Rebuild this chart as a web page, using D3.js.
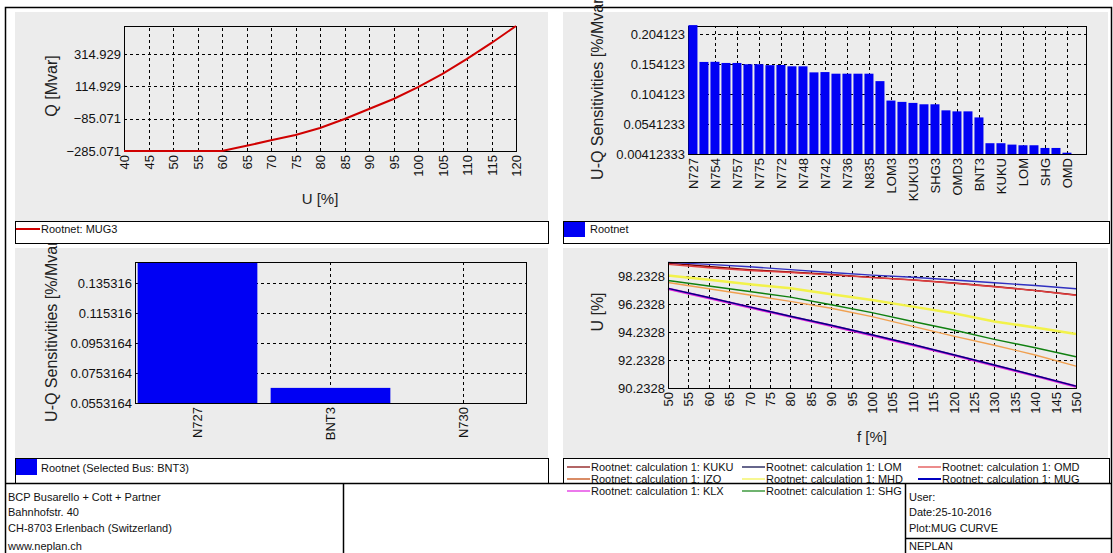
<!DOCTYPE html>
<html>
<head>
    <meta charset="utf-8" />
    <script src="https://cdn.jsdelivr.net/npm/d3@7/dist/d3.min.js"></script>
    <title>MUG curve</title>
    <style>
        body { margin: 0; background: #fff; }
        svg { display: block; font-family: "Liberation Sans", Arial, sans-serif; }
        .grid line { stroke: #000; stroke-dasharray: 3,3; shape-rendering: crispEdges; }
        .grid path, .lbl path { display: none; }
        .lbl text { font-size: 13px; fill: #111; }
        .title { font-size: 15px; fill: #222; }
        .title.vert { font-size: 16px; }
        .small { font-size: 11px; fill: #111; }
    </style>
</head>
<body>
    <script>
        // Q-U curve (top left)
        var uSteps = [40, 45, 50, 55, 60, 65, 70, 75, 80, 85, 90, 95, 100, 105, 110, 115, 120];
        var qValues = [-285.071, -285.071, -285.071, -285.071, -285.071, -253, -219, -186, -143, -87, -25, 37, 111, 192, 285, 384, 489];
        var qTicks = [-285.071, -85.071, 114.929, 314.929];

        // U-Q sensitivities, all buses (top right), only every second bus is labelled
        var sensLabels = ["N727", "N754", "N757", "N775", "N772", "N748", "N742", "N736", "N835",
            "LOM3", "KUKU3", "SHG3", "OMD3", "BNT3", "KUKU", "LOM", "SHG", "OMD"];
        var sensValues = [0.219, 0.1576, 0.1578, 0.1559, 0.1559, 0.1537, 0.1537, 0.1522, 0.1525, 0.1503,
            0.1503, 0.1402, 0.1407, 0.1380, 0.1380, 0.1380, 0.1380, 0.1256, 0.0932, 0.0910,
            0.0893, 0.0870, 0.0870, 0.0769, 0.0752, 0.0752, 0.0651, 0.0221, 0.0221, 0.0198,
            0.0187, 0.0187, 0.0142, 0.0142, 0.0063];
        var sensTicks = [0.00412333, 0.0541233, 0.104123, 0.154123, 0.204123];

        // selected bus BNT3 (bottom left)
        var busNames = ["N727", "BNT3", "N730"];
        var busValues = [0.1494, 0.0654, 0.0553164];
        var busTicks = [0.0553164, 0.0753164, 0.0953164, 0.115316, 0.135316];

        // U-f curves (bottom right)
        var fSteps = [50, 60, 70, 80, 90, 100, 110, 120, 130, 140, 150];
        var fTicks = [50, 55, 60, 65, 70, 75, 80, 85, 90, 95, 100, 105, 110, 115, 120, 125, 130, 135, 140, 145, 150];
        var uTicks = [90.2328, 92.2328, 94.2328, 96.2328, 98.2328];
        var uKUKU = [99.20, 98.95, 98.72, 98.55, 98.37, 98.17, 97.99, 97.76, 97.51, 97.23, 96.90];
        var uLOM = [97.38, 96.72, 96.05, 95.38, 94.73, 94.05, 93.35, 92.62, 91.88, 91.13, 90.37];
        var uOMD = [99.10, 98.86, 98.66, 98.52, 98.35, 98.15, 97.98, 97.75, 97.50, 97.22, 96.89];
        var uIZO = [97.80, 97.35, 96.90, 96.45, 95.95, 95.35, 94.65, 93.95, 93.30, 92.60, 91.80];
        var uMHD = [98.30, 98.00, 97.68, 97.38, 96.95, 96.55, 96.07, 95.59, 95.00, 94.58, 94.10];
        var uMUG = [99.24, 99.10, 98.93, 98.72, 98.52, 98.33, 98.18, 97.98, 97.78, 97.58, 97.35];
        var uKLX = [97.35, 96.69, 96.02, 95.35, 94.70, 94.02, 93.32, 92.59, 91.85, 91.10, 90.34];
        var uSHG = [97.94, 97.55, 97.15, 96.75, 96.20, 95.64, 95.00, 94.39, 93.72, 93.12, 92.47];

        var fSeries = [
            { name: "KUKU", values: uKUKU },
            { name: "LOM", values: uLOM },
            { name: "OMD", values: uOMD },
            { name: "IZO", values: uIZO },
            { name: "MHD", values: uMHD },
            { name: "MUG", values: uMUG },
            { name: "KLX", values: uKLX },
            { name: "SHG", values: uSHG }
        ];
        var lineColor = { KUKU: "#800000", LOM: "#000080", OMD: "#e04040", IZO: "#f0a050", MHD: "#f2f24a", MUG: "#3030c0", KLX: "#e020e0", SHG: "#108010" };
        var legendColor = { KUKU: "#800000", LOM: "#000040", OMD: "#e04040", IZO: "#c04000", MHD: "#f2f24a", MUG: "#0000c0", KLX: "#e020e0", SHG: "#108010" };

        var width = 1113, height = 553;

        var svg = d3.select("body").append("svg")
            .attr("width", width)
            .attr("height", height);

        // page frame
        svg.append("rect")
            .attr("x", 5.5).attr("y", 7.5)
            .attr("width", 1106).attr("height", 560)
            .attr("fill", "#fff").attr("stroke", "#000").attr("stroke-width", 1.5);

        function panel(x0, y0, x1, y1) {
            svg.append("rect")
                .attr("x", x0).attr("y", y0)
                .attr("width", x1 - x0).attr("height", y1 - y0)
                .attr("fill", "#ececec");
        }
        panel(15, 12, 548, 221);
        panel(563, 12, 1108, 221);
        panel(15, 248, 548, 458);
        panel(563, 248, 1108, 458);

        // grid, tick labels and titles of one plot
        function axes(box, x, y, xTicks, yTicks, xFmt, yFmt) {
            var g = svg.append("g");
            g.append("g").attr("class", "grid")
                .attr("transform", "translate(0," + box.b + ")")
                .call(d3.axisBottom(x).tickValues(xTicks).tickSize(-(box.b - box.t)).tickFormat(""));
            g.append("g").attr("class", "grid")
                .attr("transform", "translate(" + box.l + ",0)")
                .call(d3.axisLeft(y).tickValues(yTicks).tickSize(-(box.r - box.l)).tickFormat(""));

            g.append("g").attr("class", "lbl")
                .attr("transform", "translate(0," + box.b + ")")
                .call(d3.axisBottom(x).tickValues(xTicks).tickSize(0).tickFormat(xFmt))
                .selectAll("text")
                .attr("transform", "rotate(-90)")
                .attr("x", -4).attr("y", 0).attr("dy", "0.35em")
                .style("text-anchor", "end");
            g.append("g").attr("class", "lbl")
                .attr("transform", "translate(" + box.l + ",0)")
                .call(d3.axisLeft(y).tickValues(yTicks).tickSize(0).tickPadding(3).tickFormat(yFmt));
            return g;
        }

        function border(box) {
            svg.append("rect")
                .attr("x", box.l + 0.5).attr("y", box.t + 0.5)
                .attr("width", box.r - box.l).attr("height", box.b - box.t)
                .attr("fill", "none").attr("stroke", "#000");
        }

        function yTitle(txt, x, y) {
            svg.append("text").attr("class", "title vert")
                .attr("transform", "translate(" + x + "," + y + ") rotate(-90)")
                .attr("text-anchor", "middle").attr("dy", "0.35em")
                .text(txt);
        }

        function xTitle(txt, x, y) {
            svg.append("text").attr("class", "title")
                .attr("x", x).attr("y", y)
                .attr("text-anchor", "middle").attr("dy", "0.35em")
                .text(txt);
        }

        // ---- top left: Q(U)
        var b1 = { l: 124, t: 26, r: 516, b: 151 };
        var x1 = d3.scaleLinear().domain([40, 120]).range([b1.l, b1.r]);
        var y1 = d3.scaleLinear().domain([-285.071, 489]).range([b1.b, b1.t]);
        axes(b1, x1, y1, uSteps, qTicks, function (d) { return d; }, function (d) { return d3.format(".3f")(d); });
        border(b1);
        svg.append("path")
            .datum(uSteps)
            .attr("fill", "none").attr("stroke", "#d00000").attr("stroke-width", 2)
            .attr("d", d3.line()
                .x(function (d) { return x1(d); })
                .y(function (d, i) { return y1(qValues[i]); }));
        yTitle("Q [Mvar]", 51, 86);
        xTitle("U [%]", 320, 199);

        // ---- top right: sensitivities
        var b2 = { l: 688, t: 26, r: 1086, b: 154 };
        var x2 = d3.scaleLinear().domain([-0.45, 35.73]).range([b2.l, b2.r]);
        var y2 = d3.scaleLinear().domain([0.00412333, 0.2175]).range([b2.b, b2.t]);
        var evenIdx = sensLabels.map(function (d, i) { return i * 2; });
        axes(b2, x2, y2, evenIdx, sensTicks, function (d) { return sensLabels[d / 2]; }, function (d) { return String(d); });
        border(b2);
        svg.append("g").selectAll("rect")
            .data(sensValues)
            .enter().append("rect")
            .attr("x", function (d, i) { return x2(i) - 4.5; })
            .attr("width", 9)
            .attr("y", function (d) { return y2(d); })
            .attr("height", function (d) { return y2(0.00412333) - y2(d); })
            .attr("fill", "#0000f4");
        yTitle("U-Q Sensitivities [%/Mvar]", 597, 87);

        // ---- bottom left: selected bus
        var b3 = { l: 135, t: 262, r: 526, b: 403 };
        var x3 = d3.scaleBand().domain(busNames).range([b3.l, b3.r]).paddingInner(0.1).paddingOuter(0.02);
        var y3 = d3.scaleLinear().domain([0.0553164, d3.max(busValues)]).range([b3.b, b3.t]);
        axes(b3, x3, y3, busNames, busTicks, function (d) { return d; }, function (d) { return String(d); });
        svg.append("g").selectAll("rect")
            .data(busValues)
            .enter().append("rect")
            .attr("x", function (d, i) { return x3(busNames[i]); })
            .attr("width", x3.bandwidth())
            .attr("y", function (d) { return y3(d); })
            .attr("height", function (d) { return y3(0.0553164) - y3(d); })
            .attr("fill", "#0000f4");
        border(b3);
        yTitle("U-Q Sensitivities [%/Mvar]", 51, 329);

        // ---- bottom right: U(f)
        var b4 = { l: 668, t: 262, r: 1076, b: 388 };
        var x4 = d3.scaleLinear().domain([50, 150]).range([b4.l, b4.r]);
        var y4 = d3.scaleLinear().domain([90.2328, 99.27]).range([b4.b, b4.t]);
        axes(b4, x4, y4, fTicks, uTicks, function (d) { return d; }, function (d) { return String(d); });
        var drawOrder = ["KLX", "LOM", "SHG", "IZO", "MHD", "KUKU", "OMD", "MUG"];
        drawOrder.forEach(function (name) {
            var s = fSeries.filter(function (d) { return d.name === name; })[0];
            svg.append("path")
                .datum(s.values)
                .attr("fill", "none")
                .attr("stroke", lineColor[name])
                .attr("stroke-width", name === "MHD" ? 2.5 : (name === "KLX" ? 2.5 : 1.4))
                .attr("d", d3.line()
                    .x(function (d, i) { return x4(fSteps[i]); })
                    .y(function (d) { return y4(d); }));
        });
        border(b4);
        yTitle("U [%]", 597, 312);
        xTitle("f [%]", 872, 437);

        // ---- legends
        function legendBox(x0, y0, x1, y1) {
            svg.append("rect")
                .attr("x", x0 + 0.5).attr("y", y0 + 0.5)
                .attr("width", x1 - x0).attr("height", y1 - y0)
                .attr("fill", "#fff").attr("stroke", "#000");
        }
        legendBox(15, 221, 548, 243);
        legendBox(563, 221, 1109, 243);
        legendBox(15, 458, 548, 483);
        legendBox(563, 458, 1109, 483);

        svg.append("line").attr("x1", 16).attr("x2", 40).attr("y1", 229).attr("y2", 229)
            .attr("stroke", "#d00000").attr("stroke-width", 2);
        svg.append("text").attr("class", "small").attr("x", 41).attr("y", 229).attr("dy", "0.35em").text("Rootnet: MUG3");

        svg.append("rect").attr("x", 564).attr("y", 222).attr("width", 21).attr("height", 15).attr("fill", "#0000f4");
        svg.append("text").attr("class", "small").attr("x", 590).attr("y", 229).attr("dy", "0.35em").text("Rootnet");

        svg.append("rect").attr("x", 16).attr("y", 459).attr("width", 21).attr("height", 16).attr("fill", "#0000f4");
        svg.append("text").attr("class", "small").attr("x", 41).attr("y", 468).attr("dy", "0.35em").text("Rootnet (Selected Bus: BNT3)");

        var legX = [567, 742, 918], legY = [467, 479, 491];
        fSeries.forEach(function (s, i) {
            var cx = legX[i % 3], cy = legY[Math.floor(i / 3)];
            svg.append("line").attr("x1", cx).attr("x2", cx + 23).attr("y1", cy).attr("y2", cy)
                .attr("stroke", legendColor[s.name]).attr("stroke-width", s.name === "MUG" ? 2 : 1.2);
            svg.append("text").attr("class", "small").attr("x", cx + 24).attr("y", cy).attr("dy", "0.35em")
                .text("Rootnet: calculation 1: " + s.name);
        });

        // ---- footer
        var footer = svg.append("g").attr("stroke", "#000").attr("stroke-width", 1.5);
        footer.append("line").attr("x1", 5).attr("x2", 1112).attr("y1", 483.5).attr("y2", 483.5);
        footer.append("line").attr("x1", 343.5).attr("x2", 343.5).attr("y1", 483).attr("y2", 553);
        footer.append("line").attr("x1", 905.5).attr("x2", 905.5).attr("y1", 483).attr("y2", 553);
        footer.append("line").attr("x1", 905).attr("x2", 1112).attr("y1", 538.5).attr("y2", 538.5);

        var addr = ["BCP Busarello + Cott + Partner", "Bahnhofstr. 40", "CH-8703 Erlenbach (Switzerland)", "www.neplan.ch"];
        var info = ["User:", "Date:25-10-2016", "Plot:MUG CURVE", "NEPLAN"];
        var rowY = [497, 512, 528, 546];
        addr.forEach(function (t, i) {
            svg.append("text").attr("class", "small").attr("x", 8).attr("y", rowY[i]).attr("dy", "0.35em").text(t);
        });
        info.forEach(function (t, i) {
            svg.append("text").attr("class", "small").attr("x", 909).attr("y", rowY[i]).attr("dy", "0.35em").text(t);
        });
    </script>
</body>
</html>
